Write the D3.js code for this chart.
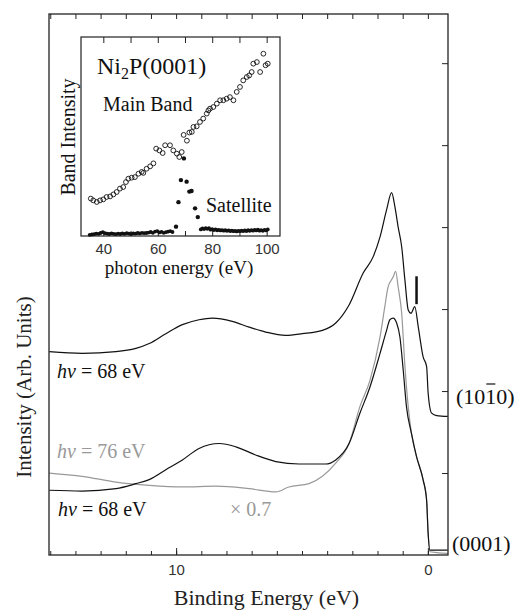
<!DOCTYPE html>
<html>
<head>
<meta charset="utf-8">
<script src="https://cdn.jsdelivr.net/npm/d3@7"></script>
<style>
  body { margin: 0; background: #fff; }
  text { font-family: "Liberation Serif", "Times New Roman", serif; }
  .tick text { font-family: "Liberation Sans", Arial, sans-serif; }
</style>
</head>
<body>
<svg id="chart"></svg>
<script>
// ---- main panel: photoemission spectra (binding energy in eV, intensity arb.)
const surfBE = [15.04, 13.73, 12.39, 11.60, 11.07, 10.41, 9.75, 9.09, 8.56, 7.77, 7.10, 6.44, 5.65, 4.99, 4.19, 3.66, 3.13, 2.57, 2.17, 1.90, 1.64, 1.44, 1.31, 1.18, 1.04, 0.91, 0.78, 0.67, 0.52, 0.38, 0.19, 0.05, -0.01, -0.15, -0.35, -0.79]
const surfI  = [2.48, 2.46, 2.48, 2.52, 2.58, 2.70, 2.81, 2.87, 2.89, 2.85, 2.78, 2.72, 2.68, 2.70, 2.74, 2.83, 3.05, 3.44, 3.64, 3.88, 4.21, 4.42, 4.25, 4.00, 3.76, 3.35, 2.99, 2.95, 3.03, 2.78, 2.42, 2.30, 1.98, 1.73, 1.70, 1.69]

const bulkBE = [15.04, 13.73, 12.39, 11.60, 11.07, 10.41, 9.75, 9.09, 8.29, 7.63, 6.84, 6.04, 5.12, 4.06, 3.66, 3.13, 2.70, 2.30, 1.90, 1.64, 1.51, 1.38, 1.24, 1.11, 0.98, 0.85, 0.65, 0.45, 0.19, 0.05, -0.01, -0.08, -0.35, -0.79]
const bulkI  = [0.79, 0.78, 0.81, 0.87, 0.92, 1.04, 1.16, 1.30, 1.36, 1.32, 1.22, 1.14, 1.11, 1.11, 1.16, 1.36, 1.73, 2.05, 2.46, 2.74, 2.87, 2.89, 2.83, 2.66, 2.26, 1.81, 1.48, 1.20, 0.92, 0.67, 0.27, 0.06, 0.06, 0.06]

const bulk76BE = [15.04, 13.73, 12.39, 11.07, 9.75, 8.42, 7.10, 6.04, 5.52, 4.72, 4.19, 3.66, 3.13, 2.70, 2.30, 1.90, 1.71, 1.58, 1.38, 1.28, 1.18, 1.04, 0.91, 0.78, 0.65, 0.45, 0.19, 0.05, -0.01, -0.08, -0.35, -0.79]
const bulk76I  = [1.00, 0.96, 0.89, 0.85, 0.83, 0.84, 0.81, 0.77, 0.83, 0.87, 0.96, 1.12, 1.36, 1.81, 2.13, 2.66, 3.03, 3.27, 3.39, 3.46, 3.27, 2.95, 2.30, 1.81, 1.48, 1.20, 0.92, 0.67, 0.27, 0.04, 0.03, 0.02]

const markerBE = 0.45
const markerI = [3.06, 3.40]

const beLabels = [10, 0]
const beMinor = d3.range(0, 16)
const intTicks = [1, 2, 3, 4, 5, 6]

// ---- inset: band intensity vs photon energy
const mainE = [35.4, 36.3, 37.6, 38.8, 40.0, 41.2, 42.5, 43.7, 44.9, 46.1, 47.3, 48.3, 49.2, 50.4, 51.6, 52.9, 54.1, 54.7, 55.9, 57.2, 58.4, 59.4, 60.6, 61.8, 62.7, 64.5, 65.7, 67.0, 67.9, 68.8, 69.5, 70.7, 71.6, 72.5, 73.1, 74.3, 75.5, 76.7, 78.0, 78.6, 79.2, 80.4, 81.7, 82.9, 84.1, 85.3, 86.5, 87.8, 89.0, 90.2, 91.4, 92.7, 93.6, 94.5, 95.1, 96.4, 97.6, 98.8, 99.6, 100.4]
const mainI = [18.8, 17.9, 17.1, 17.9, 18.4, 19.6, 19.9, 20.9, 22.1, 23.8, 24.6, 27.1, 28.8, 29.3, 29.6, 31.3, 32.2, 31.7, 33.8, 35.0, 36.5, 43.9, 43.0, 41.7, 45.6, 45.6, 43.0, 41.4, 39.7, 42.2, 50.8, 47.9, 52.0, 52.3, 54.8, 55.1, 57.3, 59.0, 61.5, 63.1, 64.0, 64.8, 66.5, 68.2, 68.2, 69.0, 69.8, 68.2, 72.4, 74.9, 78.2, 79.9, 80.7, 82.4, 86.6, 87.4, 82.4, 91.6, 85.8, 86.6]

const satE = [35.0, 35.8, 36.6, 37.4, 38.2, 39.0, 39.8, 40.6, 41.4, 42.2, 43.0, 43.8, 44.6, 45.4, 46.2, 47.0, 47.8, 48.6, 49.4, 50.2, 51.0, 51.8, 52.6, 53.4, 54.2, 55.0, 55.8, 56.6, 57.4, 58.2, 59.0, 59.8, 60.6, 61.4, 62.2, 63.0, 63.8, 64.6, 65.4,
  66.7, 67.6, 68.5, 69.6, 70.6, 71.6, 72.4, 73.7, 74.7,
  75.8, 76.4, 77.0, 77.6, 78.2, 78.8, 79.4, 80.0, 80.6, 81.2, 81.8, 82.4, 83.0, 83.6, 84.2, 84.8, 85.4, 86.0, 86.6, 87.2, 87.8, 88.4, 89.0, 89.6, 90.2, 90.8, 91.4, 92.0, 92.6, 93.2, 93.8, 94.4, 95.0, 95.6, 96.2, 96.8, 97.4, 98.0, 98.6, 99.2, 99.8, 100.4]
const satI = [0.6, 0.8, 0.9, 1.2, 1.1, 1.5, 1.9, 1.4, 1.2, 1.0, 1.3, 1.1, 0.9, 1.2, 1.0, 1.3, 1.1, 1.4, 1.2, 1.0, 1.3, 1.2, 1.5, 1.3, 1.6, 1.4, 1.5, 1.7, 2.0, 1.6, 2.2, 2.5, 1.8, 2.1, 1.6, 1.9, 2.2, 2.4, 2.0,
  4.7, 17.0, 28.1, 39.0, 27.3, 22.3, 22.6, 13.9, 9.5,
  3.3, 3.8, 3.5, 4.0, 3.6, 3.9, 3.2, 3.5, 3.0, 3.3, 2.9, 3.1, 2.8, 3.0, 2.7, 2.9, 2.6, 2.8, 2.5, 2.7, 2.4, 2.6, 2.3, 2.6, 2.4, 2.7, 2.5, 2.8, 2.5, 2.9, 2.6, 3.0, 2.7, 3.1, 2.8, 3.2, 2.7, 3.0, 2.6, 3.1, 2.8, 3.3]

const photonLabels = [40, 60, 80, 100]
const photonMinor = [40, 50, 60, 70, 80, 90, 100]

const width = 521, height = 611
const frame = {left: 49, right: 448, top: 14, bottom: 555}
const box = {left: 81, right: 280, top: 37, bottom: 236}

const svg = d3.select('#chart').attr('width', width).attr('height', height)

const x = d3.scaleLinear().domain([15.05, -0.8]).range([frame.left, frame.right])
const y = d3.scaleLinear().domain([0, 6.6]).range([frame.bottom, frame.top])

function cleanAxis(g) {
    g.select('.domain').remove()
    g.selectAll('.tick line').attr('stroke', '#222').attr('stroke-width', 1)
}

// minor + major ticks, bottom and top
svg.append('g').attr('transform', `translate(0,${frame.bottom})`)
    .call(d3.axisBottom(x).tickValues(beMinor).tickSize(-4).tickFormat(''))
    .call(cleanAxis)
svg.append('g').attr('transform', `translate(0,${frame.bottom})`)
    .call(d3.axisBottom(x).tickValues(beLabels).tickSize(-7).tickPadding(9).tickFormat(d3.format('d')))
    .call(cleanAxis)
    .selectAll('text').attr('font-size', 15).attr('fill', '#333')
svg.append('g').attr('transform', `translate(0,${frame.top})`)
    .call(d3.axisTop(x).tickValues(beMinor).tickSize(-5).tickFormat(''))
    .call(cleanAxis)
svg.append('g').attr('transform', `translate(${frame.right},0)`)
    .call(d3.axisRight(y).tickValues(intTicks).tickSize(-6).tickFormat(''))
    .call(cleanAxis)

const line = d3.line()
    .x(d => x(d[0]))
    .y(d => y(d[1]))
    .curve(d3.curveMonotoneX)

const curves = [
    {be: bulk76BE, val: bulk76I, color: '#999'},
    {be: bulkBE, val: bulkI, color: '#111'},
    {be: surfBE, val: surfI, color: '#111'}
]

svg.append('g').selectAll('path')
    .data(curves)
    .enter()
    .append('path')
        .attr('d', c => line(d3.zip(c.be, c.val)))
        .attr('fill', 'none')
        .attr('stroke', c => c.color)
        .attr('stroke-width', 1.2)

svg.append('line')
    .attr('x1', x(markerBE)).attr('x2', x(markerBE))
    .attr('y1', y(markerI[0])).attr('y2', y(markerI[1]))
    .attr('stroke', '#111').attr('stroke-width', 2.5)

svg.append('rect')
    .attr('x', frame.left).attr('y', frame.top)
    .attr('width', frame.right - frame.left).attr('height', frame.bottom - frame.top)
    .attr('fill', 'none').attr('stroke', '#222').attr('stroke-width', 1.3)

// labels on main panel
function hvLabel(txt, px, py, color) {
    const t = svg.append('text').attr('x', px).attr('y', py)
        .attr('font-size', 20).attr('fill', color)
    t.append('tspan').attr('font-style', 'italic').text('h\u03bd')
    t.append('tspan').text(' = ' + txt)
}
hvLabel('68 eV', 57, 378, '#111')
hvLabel('76 eV', 57, 458, '#999')
hvLabel('68 eV', 58, 516, '#111')

svg.append('text').attr('x', 230).attr('y', 516)
    .attr('font-size', 20).attr('fill', '#999').text('\u00d7 0.7')

const surfLabel = svg.append('text').attr('x', 456).attr('y', 404)
    .attr('font-size', 22).attr('fill', '#111').text('(1010)')
const off = surfLabel.node().getSubStringLength(0, 3)
const w1 = surfLabel.node().getSubStringLength(3, 1)
svg.append('line')
    .attr('x1', 456 + off + 1).attr('x2', 456 + off + w1 - 1)
    .attr('y1', 384).attr('y2', 384)
    .attr('stroke', '#111').attr('stroke-width', 1.2)

svg.append('text').attr('x', 452).attr('y', 551)
    .attr('font-size', 22).attr('fill', '#111').text('(0001)')

svg.append('text')
    .attr('x', (frame.left + frame.right) / 2 + 18).attr('y', 605)
    .attr('text-anchor', 'middle').attr('font-size', 22).attr('fill', '#222')
    .text('Binding Energy (eV)')

svg.append('text')
    .attr('transform', 'translate(31,387) rotate(-90)')
    .attr('text-anchor', 'middle').attr('font-size', 21).attr('fill', '#222')
    .text('Intensity (Arb. Units)')

// ---- inset
const ix = d3.scaleLinear().domain([31.8, 104.9]).range([box.left, box.right])
const iy = d3.scaleLinear().domain([0, 100]).range([box.bottom, box.top])

const inset = svg.append('g')
inset.append('rect')
    .attr('x', box.left).attr('y', box.top)
    .attr('width', box.right - box.left).attr('height', box.bottom - box.top)
    .attr('fill', '#fff').attr('stroke', '#222').attr('stroke-width', 1.2)

inset.append('g').attr('transform', `translate(0,${box.bottom})`)
    .call(d3.axisBottom(ix).tickValues(photonMinor).tickSize(-5).tickFormat(''))
    .call(cleanAxis)
inset.append('g').attr('transform', `translate(0,${box.bottom})`)
    .call(d3.axisBottom(ix).tickValues(photonLabels).tickSize(0).tickPadding(7).tickFormat(d3.format('d')))
    .call(cleanAxis)
    .selectAll('text').attr('font-size', 15).attr('fill', '#333')
inset.append('g').attr('transform', `translate(0,${box.top})`)
    .call(d3.axisTop(ix).tickValues(photonMinor).tickSize(-6).tickFormat(''))
    .call(cleanAxis)

inset.append('g').selectAll('circle')
    .data(d3.zip(satE, satI))
    .enter()
    .append('circle')
        .attr('cx', d => ix(d[0]))
        .attr('cy', d => iy(d[1]))
        .attr('r', d => d[1] > 4 ? 2.2 : 1.9)
        .attr('fill', '#111')

inset.append('g').selectAll('circle')
    .data(d3.zip(mainE, mainI))
    .enter()
    .append('circle')
        .attr('cx', d => ix(d[0]))
        .attr('cy', d => iy(d[1]))
        .attr('r', 2.4)
        .attr('fill', 'none')
        .attr('stroke', '#111')
        .attr('stroke-width', 0.9)

const title = inset.append('text').attr('x', 97).attr('y', 74)
    .attr('font-size', 24).attr('fill', '#111')
title.append('tspan').text('Ni')
title.append('tspan').attr('font-size', 16).attr('dy', 5).text('2')
title.append('tspan').attr('dy', -5).text('P(0001)')

inset.append('text').attr('x', 103).attr('y', 111)
    .attr('font-size', 20).attr('fill', '#111').text('Main Band')
inset.append('text').attr('x', 206).attr('y', 212)
    .attr('font-size', 20).attr('fill', '#111').text('Satellite')

inset.append('text')
    .attr('transform', 'translate(75,137) rotate(-90)')
    .attr('text-anchor', 'middle').attr('font-size', 20).attr('fill', '#111')
    .text('Band Intensity')

inset.append('text')
    .attr('x', 179).attr('y', 274)
    .attr('text-anchor', 'middle').attr('font-size', 19).attr('fill', '#111')
    .text('photon energy (eV)')
</script>
</body>
</html>
